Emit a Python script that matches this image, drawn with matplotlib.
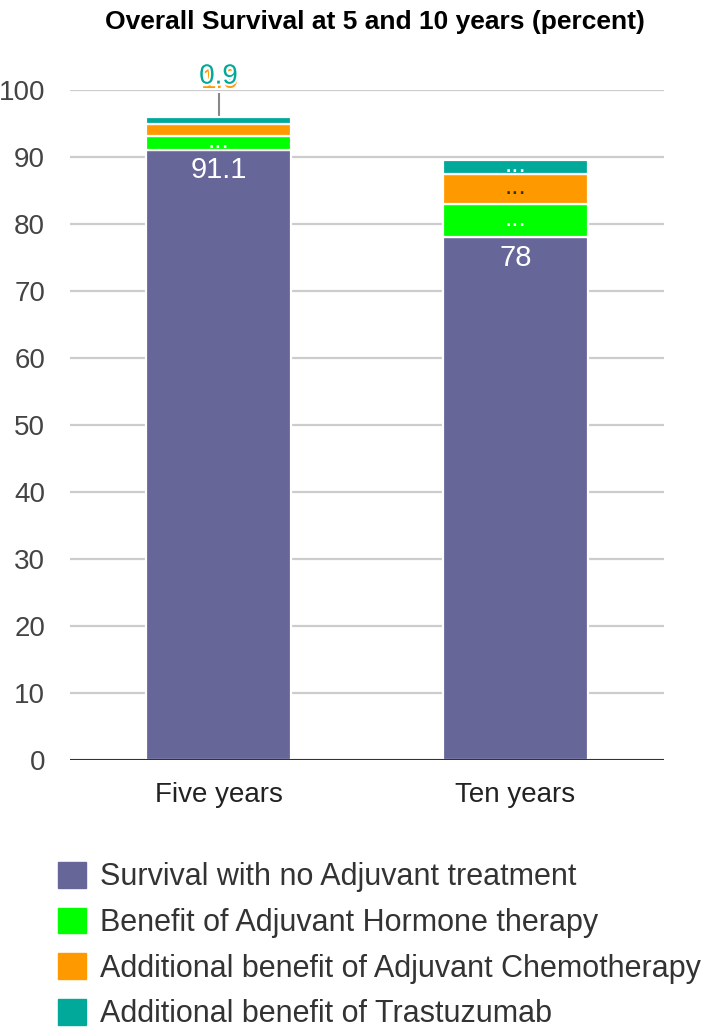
import matplotlib
matplotlib.use("Agg")
import matplotlib.pyplot as plt
import matplotlib.patheffects as pe
import numpy as np

plt.rcParams['font.family'] = ['Liberation Sans', 'DejaVu Sans']

categories = ["Five years", "Ten years"]
series_names = ["Survival with no Adjuvant treatment",
                "Benefit of Adjuvant Hormone therapy",
                "Additional benefit of Adjuvant Chemotherapy",
                "Additional benefit of Trastuzumab"]
no_adjuvant = [91.1, 78.0]
hormone = [2.1, 5.0]
chemo = [1.8, 4.5]
trastuzumab = [0.9, 2.1]
colors = ["#666699", "#00ff00", "#ff9900", "#00a99a"]
yticks = [0, 10, 20, 30, 40, 50, 60, 70, 80, 90, 100]

W, H = 709, 1033
fig = plt.figure(figsize=(W / 100, H / 100), dpi=100)
ax = fig.add_axes([70 / W, (H - 760) / H, (664 - 70) / W, (760 - 90) / H])

x = np.arange(len(categories))
series = [no_adjuvant, hormone, chemo, trastuzumab]
bottom = np.zeros(len(categories))
bars = []
for vals, col, name in zip(series, colors, series_names):
    b = ax.bar(x, vals, 0.49, bottom=bottom, color=col, edgecolor='white',
               linewidth=1.6, label=name, zorder=3)
    bars.append((b, np.array(vals), bottom.copy()))
    bottom = bottom + np.array(vals)

ax.set_xlim(-0.5, 1.5)
ax.set_ylim(0, 100)
ax.set_yticks(yticks)
ax.set_yticklabels([str(t) for t in yticks], fontsize=20, color='#444444')
ax.set_xticks(x)
ax.set_xticklabels(categories, fontsize=20, color='#222222')
ax.tick_params(axis='both', length=0)
ax.tick_params(axis='y', pad=18)
ax.tick_params(axis='x', pad=16)
for s in ax.spines.values():
    s.set_visible(False)
ax.grid(axis='y', color='#cccccc', linewidth=1.6, zorder=0)
ax.axhline(0, color='#333333', linewidth=2.2, zorder=4)

# value labels: base series
for i in range(len(categories)):
    v = no_adjuvant[i]
    ax.text(x[i], v - 1.0, f"{v:g}", ha='center', va='top', color='white',
            fontsize=21, zorder=5)

# truncated labels inside small segments
for i in range(len(categories)):
    for k, txtcol in [(1, 'white'), (2, '#333333'), (3, 'white')]:
        b, vals, bot = bars[k]
        if i == 0 and k != 1:
            continue
        yc = bot[i] + vals[i] / 2
        ax.text(x[i], yc + 0.3, "...", ha='center', va='center', color=txtcol,
                fontsize=19, zorder=5)

# callout for five-year small segments
top5 = no_adjuvant[0] + hormone[0] + chemo[0] + trastuzumab[0]
ax.plot([x[0], x[0]], [top5 - 0.6, 99.4], color='#888888', lw=1.5,
        zorder=2, clip_on=False)
ax.text(x[0] + 0.004, 101.4, "1.9", ha='center', va='center', color=colors[2],
        fontsize=20, zorder=5, clip_on=False)
ax.text(x[0], 102.0, f"{trastuzumab[0]:g}", ha='center', va='center',
        color=colors[3], fontsize=20, zorder=6, clip_on=False,
        path_effects=[pe.withStroke(linewidth=3, foreground='white')])

fig.text(375 / W, 1 - 22 / H, "Overall Survival at 5 and 10 years (percent)",
         ha='center', va='center', fontsize=19, fontweight='bold')

handles = [plt.Rectangle((0, 0), 1, 1, color=c) for c in colors]
leg = fig.legend(handles, series_names, loc='upper left',
                 bbox_to_anchor=(58 / W, 1 - 862 / H), frameon=False,
                 borderpad=0, borderaxespad=0,
                 fontsize=22, handlelength=0.92, handleheight=0.92,
                 labelspacing=0.5, handletextpad=0.46, labelcolor='#333333')

fig.savefig("out.png", dpi=100, facecolor='white')
